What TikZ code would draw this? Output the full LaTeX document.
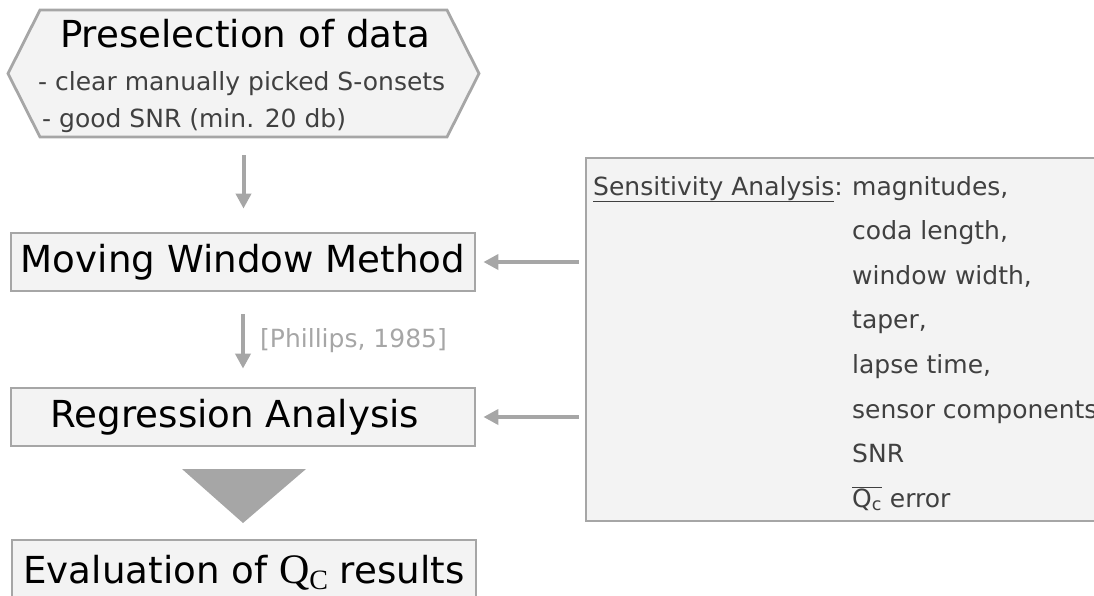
\documentclass[tikz,border=0pt]{standalone}
\usepackage{fontspec}
\setmainfont{DejaVu Sans}
\newfontfamily\qfont{Liberation Serif}
\usetikzlibrary{arrows.meta}
\definecolor{edge}{HTML}{A6A6A6}
\definecolor{panel}{HTML}{F3F3F3}
\definecolor{ink}{HTML}{404040}

\begin{document}
\begin{tikzpicture}[x=1pt,y=-1pt,
  big/.style={font=\fontsize{37.2}{40}\selectfont},
  box/.style={draw=edge, fill=panel, line width=2.8pt, minimum width=464pt,
              minimum height=58pt, inner sep=0pt, big},
  flow/.style={draw=edge, line width=4pt, -{Triangle[length=15pt,width=15pt]}},
  small/.style={font=\fontsize{25}{28}\selectfont, text=ink, inner sep=0pt},
  item/.style={small, anchor=base west},
]
\useasboundingbox (0,0) rectangle (1094,595);

% hexagonal start block
\draw[draw=edge, fill=panel, line width=2.8pt]
  (40,10) -- (447,10) -- (479,73.5) -- (447,137) -- (40,137) -- (8,73.5) -- cycle;
\node[minimum width=471pt, minimum height=127pt, inner sep=0pt] (pre) at (243.5,73.5) {};
\node[anchor=base, big, inner sep=0pt] (pretitle) at (245,47) {Preselection of data};
\node[item] (crit1) at (38,90) {- clear manually picked S-onsets};
\node[item] (crit2) at (42,127) {- good SNR (min. 20 db)};

% processing steps
\node[box] (mwm) at (243,262) {Moving Window Method};
\node[box] (reg) at (243,417) {Regression Analysis\kern16pt};
\node[box, text depth=0pt] (eval) at (244,569)
  {Evaluation of {\qfont\fontsize{42}{44}\selectfont Q\raisebox{-6pt}{\fontsize{28}{30}\selectfont C}} results};

% sensitivity panel
\node[draw=edge, fill=panel, line width=2.8pt, minimum width=540pt, minimum height=363pt,
      inner sep=0pt] (sens) at (856,339.5) {};
\node[item] (senslabel) at (593,195) {\underline{Sensitivity Analysis}:};
\node[item] (s1) at (852,195) {magnitudes,};
\node[item] (s2) at (852,239.6) {coda length,};
\node[item] (s3) at (852,284.2) {window width,};
\node[item] (s4) at (852,328.8) {taper,};
\node[item] (s5) at (852,373.4) {lapse time,};
\node[item] (s6) at (852,418) {sensor components};
\node[item] (s7) at (852,462.6) {SNR};
\node[item] (s8) at (852,507.2) {$\overline{\hbox{Q\textsubscript{c}}}$ error};

% connectors
\draw[flow, shorten <=18pt, shorten >=23pt] (pre.south) -- (pre.south |- mwm.north);
\draw[flow, shorten <=22pt, shorten >=18pt] (mwm.south) -- (reg.north);
\node[small, text=edge, anchor=base west] (cite) at (260,347) {[Phillips, 1985]};
\draw[flow, shorten <=6pt, shorten >=7pt] (sens.west |- mwm.east) -- (mwm.east);
\draw[flow, shorten <=6pt, shorten >=7pt] (sens.west |- reg.east) -- (reg.east);
\fill[edge] (182,469) -- (306,469) -- (243,523) -- cycle;
\end{tikzpicture}
\end{document}
